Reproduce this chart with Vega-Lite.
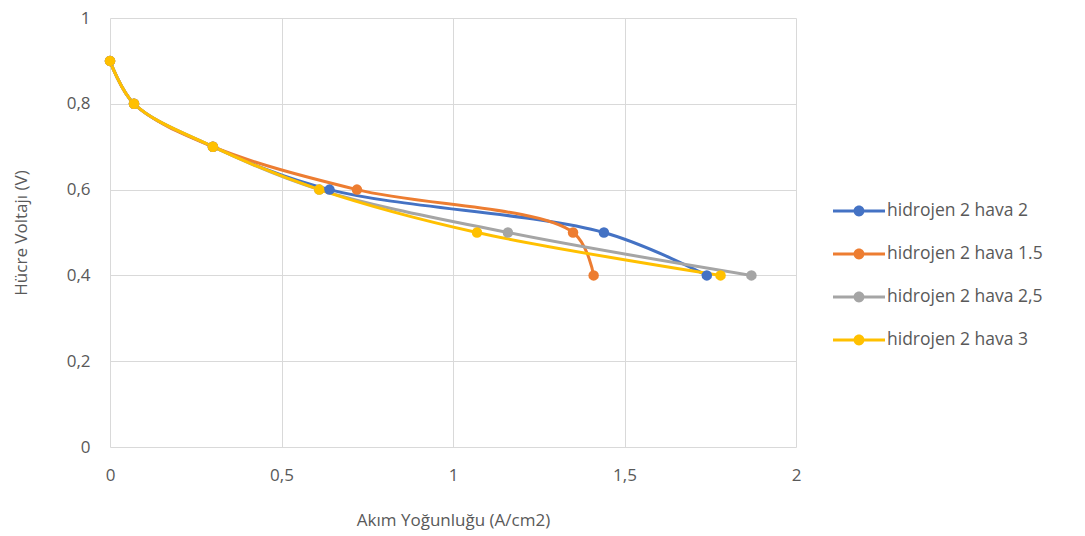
{
  "$schema": "https://vega.github.io/schema/vega-lite/v6.json",
  "autosize": {"type": "none"},
  "padding": {"left": 110, "top": 18, "right": 289, "bottom": 89},
  "width": 686,
  "height": 429,
  "background": "white",
  "config": {
    "view": {"stroke": null},
    "font": "Open Sans",
    "axis": {
      "gridColor": "#d9d9d9",
      "gridWidth": 1,
      "domain": false,
      "ticks": false,
      "labelColor": "#595959",
      "titleColor": "#595959",
      "labelFontSize": 17,
      "titleFontSize": 17,
      "titleFontWeight": "normal",
      "labelFont": "Open Sans",
      "titleFont": "Open Sans",
      "labelFlush": false
    },
    "legend": {
      "labelColor": "#595959",
      "labelFontSize": 17.5,
      "labelFont": "Open Sans"
    }
  },
  "data": {
    "values": [
      {"seri": "hidrojen 2 hava 2", "x": 0, "y": 0.9},
      {"seri": "hidrojen 2 hava 2", "x": 0.07, "y": 0.8},
      {"seri": "hidrojen 2 hava 2", "x": 0.3, "y": 0.7},
      {"seri": "hidrojen 2 hava 2", "x": 0.64, "y": 0.6},
      {"seri": "hidrojen 2 hava 2", "x": 1.44, "y": 0.5},
      {"seri": "hidrojen 2 hava 2", "x": 1.74, "y": 0.4},
      {"seri": "hidrojen 2 hava 1.5", "x": 0, "y": 0.9},
      {"seri": "hidrojen 2 hava 1.5", "x": 0.07, "y": 0.8},
      {"seri": "hidrojen 2 hava 1.5", "x": 0.3, "y": 0.7},
      {"seri": "hidrojen 2 hava 1.5", "x": 0.72, "y": 0.6},
      {"seri": "hidrojen 2 hava 1.5", "x": 1.35, "y": 0.5},
      {"seri": "hidrojen 2 hava 1.5", "x": 1.41, "y": 0.4},
      {"seri": "hidrojen 2 hava 2,5", "x": 0, "y": 0.9},
      {"seri": "hidrojen 2 hava 2,5", "x": 0.07, "y": 0.8},
      {"seri": "hidrojen 2 hava 2,5", "x": 0.3, "y": 0.7},
      {"seri": "hidrojen 2 hava 2,5", "x": 0.61, "y": 0.6},
      {"seri": "hidrojen 2 hava 2,5", "x": 1.16, "y": 0.5},
      {"seri": "hidrojen 2 hava 2,5", "x": 1.87, "y": 0.4},
      {"seri": "hidrojen 2 hava 3", "x": 0, "y": 0.9},
      {"seri": "hidrojen 2 hava 3", "x": 0.07, "y": 0.8},
      {"seri": "hidrojen 2 hava 3", "x": 0.3, "y": 0.7},
      {"seri": "hidrojen 2 hava 3", "x": 0.61, "y": 0.6},
      {"seri": "hidrojen 2 hava 3", "x": 1.07, "y": 0.5},
      {"seri": "hidrojen 2 hava 3", "x": 1.78, "y": 0.4}
    ]
  },
  "encoding": {
    "x": {
      "field": "x", "type": "quantitative",
      "scale": {"domain": [0, 2], "nice": false},
      "axis": {"values": [0, 0.5, 1, 1.5, 2], "labelPadding": 20, "titlePadding": 29,
               "title": "Akım Yoğunluğu (A/cm2)",
               "labelExpr": "replace(toString(datum.value), '.', ',')"}
    },
    "y": {
      "field": "y", "type": "quantitative",
      "scale": {"domain": [0, 1], "nice": false},
      "axis": {"values": [0, 0.2, 0.4, 0.6, 0.8, 1], "labelPadding": 20, "titlePadding": 36,
               "title": "Hücre Voltajı (V)",
               "labelExpr": "replace(toString(datum.value), '.', ',')"}
    },
    "color": {
      "field": "seri", "type": "nominal",
      "scale": {
        "domain": ["hidrojen 2 hava 2", "hidrojen 2 hava 1.5", "hidrojen 2 hava 2,5", "hidrojen 2 hava 3"],
        "range": ["#4472C4", "#ED7D31", "#A5A5A5", "#FFC000"]
      },
      "legend": {
        "title": null,
        "orient": "none",
        "legendX": 736,
        "legendY": 180,
        "rowPadding": 21,
        "symbolType": "M-2,-0.12 L2,-0.12 L2,0.12 L-2,0.12 Z M0.42,0 A0.42,0.42 0 1 1 -0.42,0 A0.42,0.42 0 1 1 0.42,0 Z",
        "symbolSize": 676,
        "symbolStrokeWidth": 0,
        "symbolFillColor": null,
        "labelOffset": 15
      }
    },
    "order": {"field": "x", "type": "quantitative"}
  },
  "layer": [
    {
      "mark": {"type": "line", "interpolate": "catmull-rom", "strokeWidth": 3},
      "encoding": {"detail": {"field": "seri"}}
    },
    {
      "mark": {"type": "circle", "size": 110, "opacity": 1},
      "encoding": {}
    }
  ]
}
